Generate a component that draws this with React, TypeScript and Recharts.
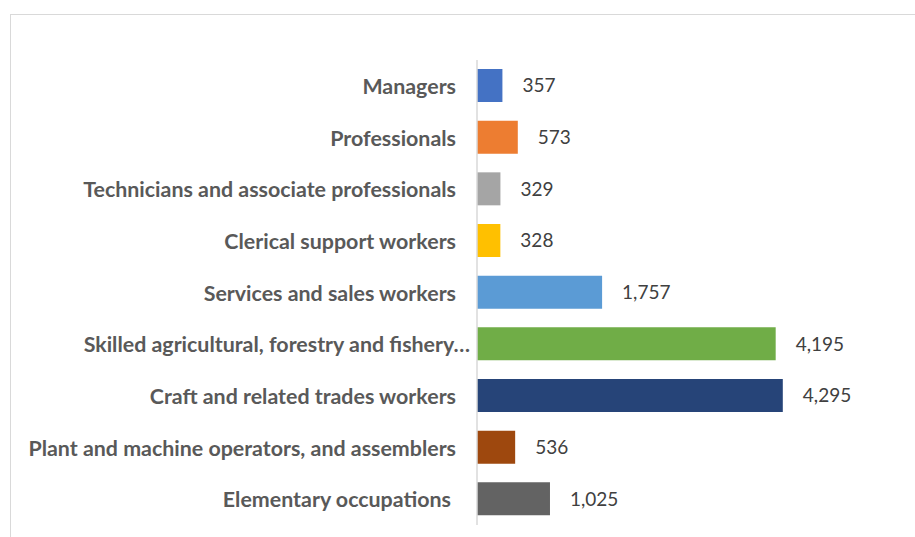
import React from 'react';
import { BarChart, Bar, XAxis, YAxis, Cell, LabelList } from 'recharts';

const categories = [
  'Managers',
  'Professionals',
  'Technicians and associate professionals',
  'Clerical support workers',
  'Services and sales workers',
  'Skilled agricultural, forestry and fishery…',
  'Craft and related trades workers',
  'Plant and machine operators, and assemblers',
  'Elementary occupations',
];

const workers = [357, 573, 329, 328, 1757, 4195, 4295, 536, 1025];

const barColors = [
  '#4472C4',
  '#ED7D31',
  '#A5A5A5',
  '#FFC000',
  '#5B9BD5',
  '#70AD47',
  '#264478',
  '#9E480E',
  '#636363',
];

const data = categories.map((name, i) => ({ name, value: workers[i] }));

const FONT = 'Lato, "Open Sans", sans-serif';

// Excel nudges a couple of the labels a bit off the common right edge
const tickNudge: Record<number, number> = { 5: 14, 8: -5 };

const CategoryTick = (props: any) => {
  const { x, y, payload, index } = props;
  const dx = tickNudge[index] || 0;
  return (
    <text
      x={x - 13 + dx}
      y={y}
      textAnchor="end"
      dominantBaseline="central"
      fill="#595959"
      fontFamily={FONT}
      fontWeight={700}
      fontSize={21.4}
    >
      {payload.value}
    </text>
  );
};

const App: React.FC = () => {
  return (
    <div style={{ position: 'absolute', left: 0, top: 0, width: 915, height: 537, background: '#fff', overflow: 'hidden' }}>
      <div
        style={{
          position: 'absolute',
          left: 10,
          top: 14,
          width: 920,
          height: 540,
          borderTop: '1px solid #d9d9d9',
          borderLeft: '1px solid #d9d9d9',
        }}
      />
      <BarChart
        width={915}
        height={537}
        data={data}
        layout="vertical"
        margin={{ top: 60, right: 82, bottom: 12, left: 0 }}
        style={{ position: 'absolute', left: 0, top: 0 }}
      >
        <XAxis type="number" domain={[0, 5000]} hide />
        <YAxis
          type="category"
          dataKey="name"
          width={477}
          axisLine={{ stroke: '#d9d9d9', strokeWidth: 1.5 }}
          tickLine={false}
          tick={<CategoryTick />}
          interval={0}
        />
        <Bar dataKey="value" barSize={33} isAnimationActive={false}>
          {data.map((d, i) => (
            <Cell key={d.name} fill={barColors[i]} />
          ))}
          <LabelList
            dataKey="value"
            position="right"
            offset={20}
            fill="#404040"
            fontFamily={FONT}
            fontSize={19}
            formatter={(v: any) => Number(v).toLocaleString('en-US')}
          />
        </Bar>
      </BarChart>
    </div>
  );
};

export default App;
